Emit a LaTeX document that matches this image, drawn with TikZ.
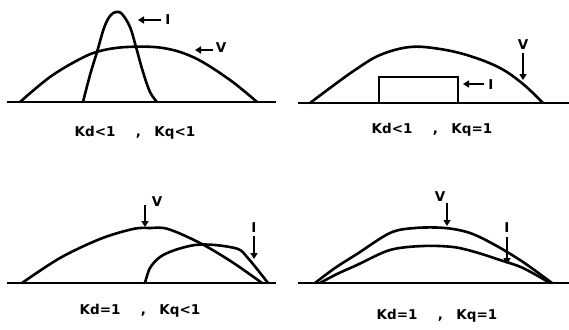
\documentclass[tikz,border=0pt]{standalone}
\usepackage{fontspec}
\setmainfont{DejaVu Sans}
\usetikzlibrary{arrows.meta}
\newcommand{\gapA}{\hspace{1.5em}}
\newcommand{\gapB}{\hspace{1.0em}}
\begin{document}
\begin{tikzpicture}[x=1pt,y=-1pt,
  curve/.style={line width=2.6pt,line join=round,line cap=round},
  base/.style={line width=2pt},
  ptr/.style={line width=2pt,-{Triangle[width=7pt,length=6pt]}},
  caption/.style={font=\bfseries\fontsize{13.5}{15}\selectfont,inner sep=0pt},
  sym/.style={font=\bfseries\fontsize{13.5}{15}\selectfont,inner sep=0pt}]
\useasboundingbox (0,0) rectangle (569,329);
% ---------- panel 1 ----------
\draw[base] (7,102) -- (276,102);
\draw[curve] plot[smooth,tension=0.6] coordinates {(20,102) (50,77) (80,59) (100,51) (127,47) (163,48) (195,58) (230,80) (257,102)};
\draw[curve] plot[smooth,tension=0.6] coordinates {(83,102) (90,75) (97,52) (104,28) (110,16) (116,12) (122,14) (130,27) (136,47) (143,72) (150,92) (157,102)};
\node[sym] (i1) at (168,20) {I};
\coordinate (i1s) at (161,20); \coordinate (i1e) at (138,20);
\draw[ptr] (i1s) -- (i1e);
\node[sym] (v1) at (221,48) {V};
\coordinate (v1s) at (213,50); \coordinate (v1e) at (195,50);
\draw[ptr] (v1s) -- (v1e);
\node[caption] (c1) at (135,133) {Kd<1\gapA,\gapB Kq<1};
% ---------- panel 2 ----------
\draw[base] (298,103) -- (569,103);
\draw[curve] plot[smooth,tension=0.6] coordinates {(310,103) (330,88) (355,70) (380,55) (410,47) (440,49) (470,56) (500,68) (523,84) (543,103)};
\draw[line width=2pt] (379,103) rectangle (458,77);
\node[sym] (i2) at (491,85) {I};
\coordinate (i2s) at (484,84); \coordinate (i2e) at (463,84);
\draw[ptr] (i2s) -- (i2e);
\node[sym] (v2) at (523,45) {V};
\coordinate (v2s) at (523,53); \coordinate (v2e) at (523,80);
\draw[ptr] (v2s) -- (v2e);
\node[caption] (c2) at (432,130) {Kd<1\gapA,\gapB Kq=1};
% ---------- panel 3 ----------
\draw[base] (7,283) -- (276,283);
\draw[curve] plot[smooth,tension=0.55] coordinates {(22,283) (60,258) (100,239) (133,229) (150,228) (168,229) (200,243) (232,262) (262,283)};
\draw[curve] plot[smooth,tension=0.55] coordinates {(145,283) (150,268) (160,257) (175,250) (195,245) (215,245) (238,249) (247,257) (257,269) (268,283)};
\node[sym] (v3) at (157,202) {V};
\coordinate (v3s) at (145,205); \coordinate (v3e) at (145,227);
\draw[ptr] (v3s) -- (v3e);
\node[sym] (i3) at (254,228) {I};
\coordinate (i3s) at (254,236); \coordinate (i3e) at (254,259);
\draw[ptr] (i3s) -- (i3e);
\node[caption] (c3) at (140,311) {Kd=1\gapA,\gapB Kq<1};
% ---------- panel 4 ----------
\draw[base] (298,283) -- (569,283);
\draw[curve] plot[smooth,tension=0.55] coordinates {(315,283) (335,268) (357,254) (390,233) (415,228) (445,228) (470,233) (495,245) (523,262) (552,283)};
\draw[curve] plot[smooth,tension=0.55] coordinates {(320,283) (337,274) (357,265) (390,250) (423,246) (453,247) (475,252) (500,260) (523,268) (550,283)};
\node[sym] (v4) at (440,197) {V};
\coordinate (v4s) at (447,203); \coordinate (v4e) at (447,226);
\draw[ptr] (v4s) -- (v4e);
\node[sym] (i4) at (507,228) {I};
\coordinate (i4s) at (507,237); \coordinate (i4e) at (507,264);
\draw[ptr] (i4s) -- (i4e);
\node[caption] (c4) at (437,316) {Kd=1\gapA,\gapB Kq=1};
\end{tikzpicture}
\end{document}
